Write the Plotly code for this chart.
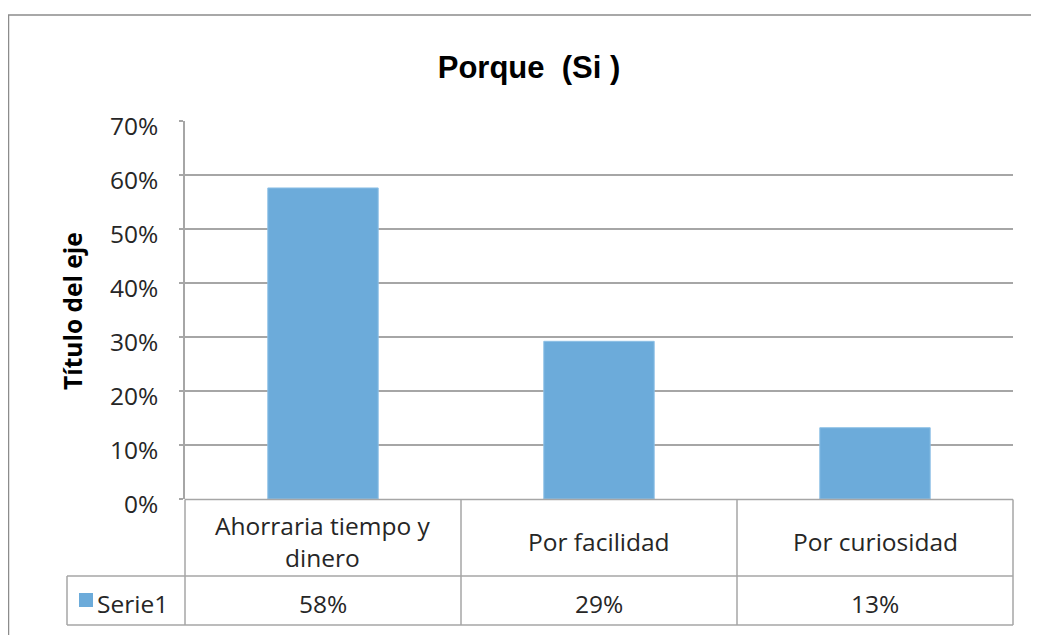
import plotly.graph_objects as go

# data
categorias = ["Ahorraria tiempo y<br>dinero", "Por facilidad", "Por curiosidad"]
valores = [0.576, 0.292, 0.132]
serie = "Serie1"
titulo = "Porque  (Si )"
titulo_eje = "Título del eje"

OFF = 8                         # page body margin
W, H = 1031, 627
L, R, T, B = 177, 26, 113, 136  # plot area on screen: 185..1013 x 121..499
GRIS = "#A6A6A6"
AZUL = "#6CABDA"
TXT = "#262626"
FONT = "Open Sans"
FS = 24.5


def px(sx):
    # screen x -> paper x
    return (sx - OFF - L) / (W - L - R)


def py(sy):
    # screen y -> paper y
    return (H - B - (sy - OFF)) / (H - T - B)


fig = go.Figure(go.Bar(
    x=list(range(len(categorias))), y=valores, name=serie,
    marker=dict(color=AZUL, line=dict(color="#8EC0E6", width=1)),
    width=0.4,
))

shapes = []
line = dict(color=GRIS, width=1.5)
# data table: horizontal rules
shapes.append(dict(type="line", xref="paper", yref="paper",
                   x0=0, x1=1, y0=py(499.5), y1=py(499.5), line=line))
for sy in (576, 625):
    shapes.append(dict(type="line", xref="paper", yref="paper",
                       x0=px(67), x1=1, y0=py(sy), y1=py(sy), line=line))
# data table: vertical rules
shapes.append(dict(type="line", xref="paper", yref="paper",
                   x0=px(67), x1=px(67), y0=py(576), y1=py(625), line=line))
for i in range(len(categorias) + 1):
    xv = i / len(categorias)
    shapes.append(dict(type="line", xref="paper", yref="paper",
                       x0=xv, x1=xv, y0=py(499.5), y1=py(625), line=line))
# legend key
shapes.append(dict(type="rect", xref="paper", yref="paper",
                   x0=px(79), x1=px(93), y0=py(593), y1=py(607),
                   fillcolor=AZUL, line=dict(width=0)))
# chart border
shapes.append(dict(type="rect", xref="paper", yref="paper",
                   x0=px(8.5), x1=px(1060), y0=py(15), y1=py(660),
                   line=dict(color="#8C8C8C", width=1.5)))

annotations = []
for i, (c, v) in enumerate(zip(categorias, valores)):
    annotations.append(dict(x=i, y=py(541), xref="x", yref="paper",
                            text=c, showarrow=False, yanchor="middle",
                            font=dict(family=FONT, size=FS, color=TXT)))
    annotations.append(dict(x=i, y=py(603), xref="x", yref="paper",
                            text=f"{v:.0%}", showarrow=False, yanchor="middle",
                            font=dict(family=FONT, size=FS, color=TXT)))
annotations.append(dict(x=px(95), y=py(603), xref="paper", yref="paper",
                        text=serie, showarrow=False, xanchor="left",
                        yanchor="middle",
                        font=dict(family=FONT, size=FS, color=TXT)))
annotations.append(dict(x=px(72), y=py(311), xref="paper", yref="paper",
                        text="<b>" + titulo_eje + "</b>", showarrow=False,
                        textangle=-90, xanchor="center", yanchor="middle",
                        font=dict(family=FONT, size=FS, color="#000000")))

fig.update_layout(
    width=W, height=H,
    margin=dict(l=L, r=R, t=T, b=B),
    paper_bgcolor="white", plot_bgcolor="white",
    title=dict(text="<b>" + titulo + "</b>", x=(529 - OFF) / W,
               xanchor="center", y=1 - (67 - OFF) / H, yanchor="middle",
               font=dict(family="Liberation Sans", size=31, color="#000000")),
    showlegend=False,
    bargap=0.6,
    shapes=shapes,
    annotations=annotations,
)
fig.update_xaxes(range=[-0.5, 2.5], showticklabels=False, showgrid=False,
                 showline=False, zeroline=False, fixedrange=True)
fig.update_yaxes(range=[0, 0.7], dtick=0.1, tickformat=".0%",
                 showgrid=True, gridcolor=GRIS, gridwidth=1.5,
                 showline=True, linecolor=GRIS, linewidth=1.5, zeroline=False,
                 ticks="outside", ticklen=4, tickcolor=GRIS, tickwidth=1.5,
                 ticklabelstandoff=16, ticklabelshift=5,
                 tickfont=dict(family=FONT, size=FS, color=TXT))

fig.write_html("out.html")
